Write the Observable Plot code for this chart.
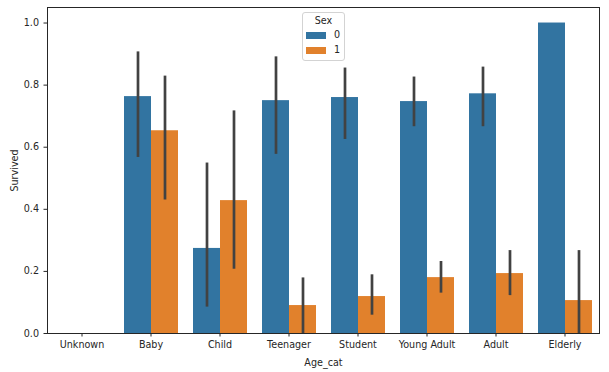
<!DOCTYPE html>
<html><head><meta charset="utf-8">
<script src="https://cdn.jsdelivr.net/npm/d3@7"></script>
<script src="https://cdn.jsdelivr.net/npm/@observablehq/plot@0.6"></script>
<style>
body{margin:0;background:#fff;}
#wrap{position:relative;width:609px;height:372px;font-family:"DejaVu Sans",sans-serif;}
.legend{position:absolute;left:302px;top:12px;width:43px;height:49px;border:1px solid #d3d3d3;border-radius:3px;box-sizing:border-box;font-size:9.6px;color:#262626;background:rgba(255,255,255,0.8);}
.legend .title{position:absolute;left:0;right:0;top:2px;text-align:center;}
.legend .item{position:absolute;left:3px;height:12px;}
.legend .sw{position:absolute;left:0;top:3px;width:20px;height:7px;}
.legend .lab{position:absolute;left:28px;top:0;}
</style>
</head><body><div id="wrap"></div>
<script>
const categories = ["Unknown","Baby","Child","Teenager","Student","Young Adult","Adult","Elderly"];
const sexes = ["0","1"];
const survived0 = [null,0.763,0.274,0.750,0.760,0.747,0.772,1.000];
const ciLow0   = [null,0.567,0.085,0.577,0.625,0.666,0.666,null];
const ciHigh0  = [null,0.907,0.549,0.891,0.855,0.826,0.858,null];
const survived1 = [null,0.653,0.428,0.090,0.119,0.180,0.193,0.106];
const ciLow1   = [null,0.430,0.207,0.000,0.059,0.130,0.122,0.000];
const ciHigh1  = [null,0.829,0.717,0.179,0.189,0.232,0.267,0.267];
const yTicks = [0,0.2,0.4,0.6,0.8,1.0];
const colors = ["#3274a1","#e1812c"];

const series = [[survived0,ciLow0,ciHigh0],[survived1,ciLow1,ciHigh1]];
const rows = [];
categories.forEach((cat,i)=>{
  sexes.forEach((sex,s)=>{
    const [m,lo,hi] = series[s];
    rows.push({cat, sex, mean:m[i], lo:lo[i], hi:hi[i]});
  });
});
const axisColor = "#262626";
const chart = Plot.plot({
  width: 609, height: 372,
  marginLeft: 44, marginRight: 7, marginTop: 7, marginBottom: 39,
  style: {fontFamily: "DejaVu Sans", fontSize: "9.6px", color: axisColor, background: "#fff"},
  fx: {domain: categories, padding: 0},
  x: {domain: sexes, paddingInner: 0, paddingOuter: 0.25, axis: null},
  y: {domain: [0, 1.05]},
  color: {domain: sexes, range: colors},
  marks: [
    Plot.barY(rows, {fx: "cat", x: "sex", y: "mean", fill: "sex"}),
    Plot.ruleX(rows, {fx: "cat", x: "sex", y1: "lo", y2: "hi", stroke: "#424242", strokeWidth: 2.7}),
    Plot.frame({anchor: "bottom", stroke: axisColor}),
    Plot.frame({anchor: "top", stroke: axisColor}),
    Plot.frame({anchor: "left", facetAnchor: "left", stroke: axisColor}),
    Plot.frame({anchor: "right", facetAnchor: "right", stroke: axisColor}),
    Plot.axisY({ticks: yTicks, tickFormat: d3.format(".1f"), tickSize: 3.5, tickPadding: 5, label: "Survived", labelAnchor: "center", labelArrow: "none", labelOffset: 36}),
    Plot.axisFx({anchor: "bottom", tickSize: 3.5, tickPadding: 4, label: "Age_cat", labelAnchor: "center", labelArrow: "none", labelOffset: 32})
  ]
});
const wrap = document.getElementById("wrap");
wrap.appendChild(chart);
const leg = document.createElement("div");
leg.className = "legend";
leg.innerHTML = '<div class="title">Sex</div>' + sexes.map((s,i)=>
  `<div class="item" style="top:${16 + i*15}px"><div class="sw" style="background:${colors[i]}"></div><div class="lab">${s}</div></div>`).join("");
wrap.appendChild(leg);
</script>
</body></html>
